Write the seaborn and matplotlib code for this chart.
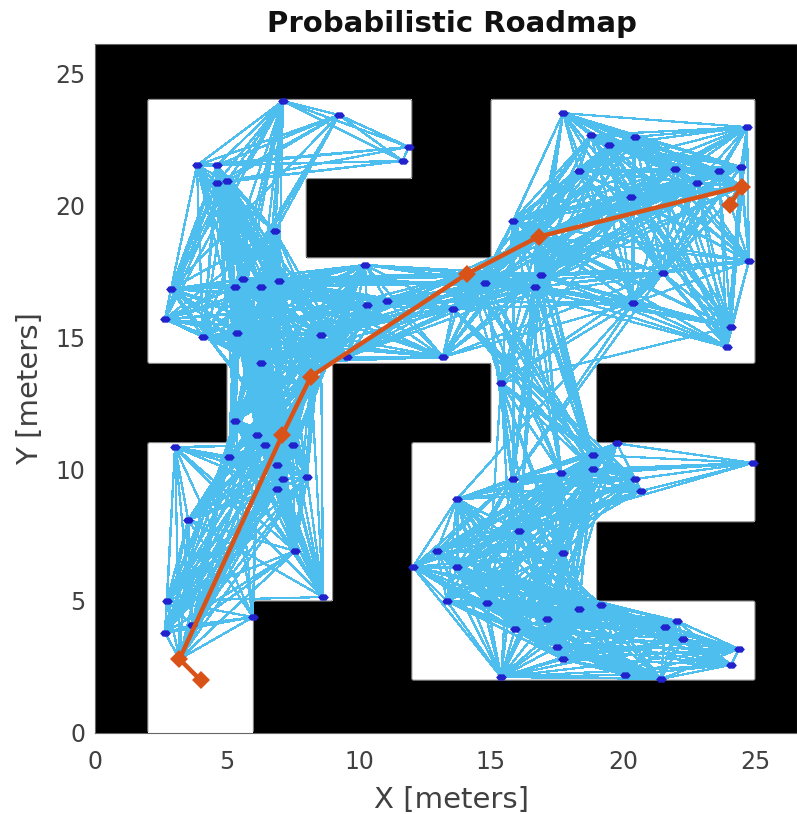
import itertools
import numpy as np
import pandas as pd
import seaborn as sns
import matplotlib.pyplot as plt
from matplotlib.markers import MarkerStyle
from matplotlib.transforms import Affine2D

# free space of the map, as x0, x1, y0, y1 in meters
free_rects = [
    (2, 12, 21, 24), (2, 8, 14, 21), (8, 15, 14, 18), (15, 25, 14, 24),
    (5, 9, 11, 14), (15, 19, 11, 14), (2, 9, 5, 11), (2, 6, 0, 5),
    (12, 25, 8, 11), (12, 19, 5, 8), (12, 25, 2, 5),
]

node_x = [
    7.12, 9.24, 11.88, 11.65, 3.86, 4.62, 4.62, 5.00, 6.82, 10.23, 5.60, 6.97,
    5.30, 6.29, 2.88, 10.30, 11.06, 2.65, 4.09, 5.38, 8.56, 6.29, 9.55, 13.18,
    17.73, 18.79, 19.47, 20.45, 24.70, 18.33, 21.97, 23.64, 24.47, 22.80, 20.30,
    15.83, 24.77, 21.50, 16.89, 14.77, 16.67, 13.56, 20.38, 24.09, 23.94, 15.38,
    5.30, 6.14, 6.44, 7.50, 3.03, 5.08, 6.89, 7.12, 8.03, 6.89, 3.53, 7.58,
    2.73, 8.64, 5.98, 3.68, 2.65,
    19.77, 18.86, 18.86, 17.65, 15.83, 24.92, 20.45, 20.68, 13.71, 16.06, 12.95,
    17.73, 12.05, 13.71, 13.33, 14.85, 19.17, 18.33, 22.05, 17.12, 21.59, 15.91,
    22.27, 17.50, 24.39, 17.73, 24.09, 15.38, 20.08, 21.44,
]
node_y = [
    23.94, 23.41, 22.20, 21.67, 21.50, 21.50, 20.83, 20.90, 19.00, 17.73, 17.20, 17.12,
    16.89, 16.89, 16.82, 16.21, 16.36, 15.68, 15.00, 15.15, 15.08, 14.00, 14.24, 14.24,
    23.48, 22.65, 22.27, 22.58, 22.95, 21.29, 21.36, 21.29, 21.44, 20.83, 20.30,
    19.39, 17.88, 17.42, 17.35, 17.05, 16.89, 16.06, 16.29, 15.38, 14.62, 13.26,
    11.82, 11.29, 10.91, 10.91, 10.83, 10.45, 10.15, 9.62, 9.70, 9.24, 8.07, 6.89,
    5.00, 5.15, 4.39, 4.09, 3.79,
    10.97, 10.53, 10.00, 9.85, 9.62, 10.23, 9.62, 9.17, 8.86, 7.65, 6.89,
    6.82, 6.29, 6.29, 5.00, 4.92, 4.85, 4.70, 4.24, 4.32, 4.02, 3.94,
    3.56, 3.26, 3.18, 2.80, 2.58, 2.12, 2.20, 2.05,
]

path_x = [4.0, 3.2, 7.1, 8.18, 14.1, 16.8, 24.5, 24.05]
path_y = [2.0, 2.8, 11.3, 13.5, 17.4, 18.8, 20.7, 20.0]

x_ticks = [0, 5, 10, 15, 20, 25]
y_ticks = [0, 5, 10, 15, 20, 25]

CONNECTION_DISTANCE = 10

EDGE_COLOR = '#4DBEEE'
NODE_COLOR = '#2222CC'
PATH_COLOR = '#D95319'
TEXT_COLOR = '#404040'
TICK_COLOR = '#555555'

# occupancy grid, 1 = wall, one cell per meter
grid = np.ones((27, 27), dtype=int)
for x0, x1, y0, y1 in free_rects:
    grid[y0:y1, x0:x1] = 0


def visible(a, b):
    # a roadmap edge exists when the straight line is short and stays in free space
    if np.hypot(a[0] - b[0], a[1] - b[1]) > CONNECTION_DISTANCE:
        return False
    xs = np.linspace(a[0], b[0], 300).astype(int)
    ys = np.linspace(a[1], b[1], 300).astype(int)
    return not grid[ys, xs].any()


# the path runs through roadmap nodes, except for its two ends
nodes = list(zip(node_x + path_x[1:-1], node_y + path_y[1:-1]))
edge_rows = []
for i, (a, b) in enumerate(itertools.combinations(nodes, 2)):
    if visible(a, b):
        edge_rows.append((i, a[0], a[1]))
        edge_rows.append((i, b[0], b[1]))
edges = pd.DataFrame(edge_rows, columns=['edge', 'x', 'y'])
path = pd.DataFrame({'x': path_x, 'y': path_y})

sns.set_theme(style='white')
plt.rcParams['font.family'] = ['DejaVu Sans']

fig = plt.figure(figsize=(7.97, 8.14), dpi=100)
ax = fig.add_axes([95 / 797, 81 / 814, 702 / 797, 689 / 814])

sns.heatmap(grid, cmap=['white', 'black'], vmin=0, vmax=1, cbar=False, ax=ax)

# thin grey outline of the free space, the picture has one from resampling
fine = np.kron(grid, np.ones((10, 10)))
fine_pos = (np.arange(fine.shape[0]) + 0.5) / 10
ax.contour(fine_pos, fine_pos, fine, levels=[0.5], colors='#888888', linewidths=0.8)

sns.lineplot(data=edges, x='x', y='y', units='edge', estimator=None, sort=False,
             color=EDGE_COLOR, lw=0.9, antialiased=False, ax=ax)

flat_hexagon = MarkerStyle('H', transform=Affine2D().scale(1, 0.68))
sns.scatterplot(x=node_x, y=node_y, marker=flat_hexagon, s=60, color=NODE_COLOR,
                linewidth=0, zorder=4, ax=ax)

sns.lineplot(data=path, x='x', y='y', estimator=None, sort=False, color=PATH_COLOR,
             lw=3.2, marker='D', markersize=9, markeredgewidth=0, zorder=5, ax=ax)

ax.set_xlim(0, 702 / 26.4)
ax.set_ylim(0, 689 / 26.4)
ax.set_xticks(x_ticks, [str(t) for t in x_ticks], rotation=0)
ax.set_yticks(y_ticks, [str(t) for t in y_ticks], rotation=0)
ax.tick_params(direction='in', length=5, width=0.7, color=TICK_COLOR,
               labelcolor=TEXT_COLOR, labelsize=17, left=True, bottom=True,
               top=True, right=True)
ax.tick_params(axis='x', pad=12)
ax.tick_params(axis='y', pad=7)
for label in ax.get_yticklabels():
    label.set_verticalalignment('center_baseline')
for spine in ax.spines.values():
    spine.set_visible(True)
    spine.set_color('#666666')
    spine.set_linewidth(0.8)

ax.set_xlabel('X [meters]', fontsize=21, color=TEXT_COLOR, labelpad=9,
              x=(451 - 95) / 702)
ax.set_ylabel('Y [meters]', fontsize=21, color=TEXT_COLOR, labelpad=8)
ax.set_title('Probabilistic Roadmap', fontsize=21, fontweight='bold', color='#111111', pad=9,
             x=(452 - 95) / 702)

fig.savefig('out.png', dpi=100)
